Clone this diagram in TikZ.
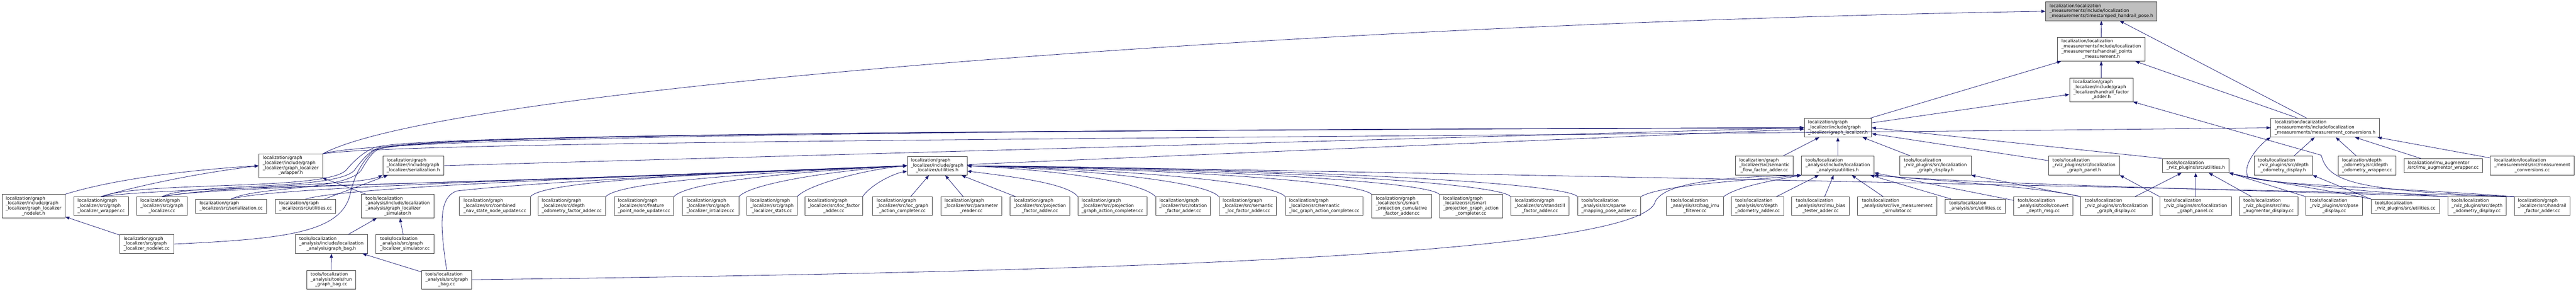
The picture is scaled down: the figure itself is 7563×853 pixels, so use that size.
\documentclass[tikz,border=0pt]{standalone}
\usepackage{fontspec}
\setmainfont{DejaVu Sans}
\usepackage{tikz}
\usetikzlibrary{arrows.meta}
\definecolor{edgeblue}{RGB}{25,25,112}
\definecolor{curgray}{RGB}{191,191,191}
\definecolor{framegray}{RGB}{64,64,64}
\tikzset{%
  filebox/.style={draw=framegray, line width=1.2pt, rectangle, fill=white, inner sep=0pt,
    font=\fontsize{13pt}{14.7pt}\selectfont},% one file of the graph
  current/.style={filebox, fill=curgray},% the file the graph is drawn for
  ltwo/.style={minimum height=41pt},
  lthree/.style={minimum height=55pt},
  lfour/.style={minimum height=69pt},
  incl/.style={draw=edgeblue, line width=1.2pt, -{Triangle[length=12pt,width=9pt]}}% include arrow
}
% left aligned lines, the last one centred
\newcommand*{\flbl}[2]{\begin{tabular}{@{}l@{}}#1\\\multicolumn{1}{@{}c@{}}{#2}\end{tabular}}

\begin{document}
\begin{tikzpicture}[x=1pt,y=1pt]
\useasboundingbox (0,0) rectangle (7563,-853);

% upper part
\node[current, lthree, minimum width=327pt] (T) at (6169.5,-33) {\flbl{localization/localization\\\_measurements/include/localization}{\_measurements/timestamped\_handrail\_pose.h}};
\node[filebox, lfour, minimum width=258pt] (hp) at (6169,-144.5) {\flbl{localization/localization\\\_measurements/include/localization\\\_measurements/handrail\_points}{\_measurement.h}};
\node[filebox, lfour, minimum width=186pt] (hfah) at (6169,-263.5) {\flbl{localization/graph\\\_localizer/include/graph\\\_localizer/handrail\_factor}{\_adder.h}};
\node[filebox, lthree, minimum width=319pt] (mc) at (6826.5,-374.5) {\flbl{localization/localization\\\_measurements/include/localization}{\_measurements/measurement\_conversions.h}};
\node[filebox, lthree, minimum width=198pt] (glh) at (5396,-374.5) {\flbl{localization/graph\\\_localizer/include/graph}{\_localizer/graph\_localizer.h}};

% second row
\node[filebox, lfour, minimum width=187pt] (gwh) at (853.5,-486) {\flbl{localization/graph\\\_localizer/include/graph\\\_localizer/graph\_localizer}{\_wrapper.h}};
\node[filebox, lthree, minimum width=179pt] (sh) at (1213.5,-485.5) {\flbl{localization/graph\\\_localizer/include/graph}{\_localizer/serialization.h}};
\node[filebox, lthree, minimum width=175pt] (gutil) at (2751.5,-486) {\flbl{localization/graph\\\_localizer/include/graph}{\_localizer/utilities.h}};
\node[filebox, lthree, minimum width=170pt] (sffa) at (5180,-485.5) {\flbl{localization/graph\\\_localizer/src/semantic}{\_flow\_factor\_adder.cc}};
\node[filebox, lthree, minimum width=213pt] (auh) at (5395.5,-485.5) {\flbl{tools/localization\\\_analysis/include/localization}{\_analysis/utilities.h}};
\node[filebox, lthree, minimum width=210pt] (gdh) at (5682,-485.5) {\flbl{tools/localization\\\_rviz\_plugins/src/localization}{\_graph\_display.h}};
\node[filebox, lthree, minimum width=209pt] (gph) at (6118.5,-485.5) {\flbl{tools/localization\\\_rviz\_plugins/src/localization}{\_graph\_panel.h}};
\node[filebox, ltwo, minimum width=195pt] (ruh) at (6446.5,-485.5) {\flbl{tools/localization}{\_rviz\_plugins/src/utilities.h}};
\node[filebox, lthree, minimum width=171pt] (dodh) at (6703.5,-485.5) {\flbl{tools/localization\\\_rviz\_plugins/src/depth}{\_odometry\_display.h}};
\node[filebox, lthree, minimum width=169pt] (dow) at (6949.5,-485.5) {\flbl{localization/depth\\\_odometry/src/depth}{\_odometry\_wrapper.cc}};
\node[filebox, ltwo, minimum width=230pt] (iaw) at (7173,-485.5) {\flbl{localization/imu\_augmentor}{/src/imu\_augmentor\_wrapper.cc}};
\node[filebox, lthree, minimum width=247pt] (mcc) at (7434.5,-485.5) {\flbl{localization/localization\\\_measurements/src/measurement}{\_conversions.cc}};

% third row
\node[filebox, lfour, minimum width=185pt] (gnh) at (98.5,-604.5) {\flbl{localization/graph\\\_localizer/include/graph\\\_localizer/graph\_localizer}{\_nodelet.h}};
\node[filebox, lthree, minimum width=160pt] (gwc) at (297,-604.5) {\flbl{localization/graph\\\_localizer/src/graph}{\_localizer\_wrapper.cc}};
\node[filebox, lthree, minimum width=147pt] (glc) at (475.5,-604.5) {\flbl{localization/graph\\\_localizer/src/graph}{\_localizer.cc}};
\node[filebox, ltwo, minimum width=209pt] (sc) at (678.5,-604.5) {\flbl{localization/graph}{\_localizer/src/serialization.cc}};
\node[filebox, ltwo, minimum width=178pt] (guc) at (897,-604.5) {\flbl{localization/graph}{\_localizer/src/utilities.cc}};
\node[filebox, lfour, minimum width=213pt] (gsh) at (1167.5,-604.5) {\flbl{tools/localization\\\_analysis/include/localization\\\_analysis/graph\_localizer}{\_simulator.h}};
\node[filebox, lthree, minimum width=208pt] (cnsu) at (1453,-604.5) {\flbl{localization/graph\\\_localizer/src/combined}{\_nav\_state\_node\_updater.cc}};
\node[filebox, lthree, minimum width=199pt] (dofa) at (1678.5,-604.5) {\flbl{localization/graph\\\_localizer/src/depth}{\_odometry\_factor\_adder.cc}};
\node[filebox, lthree, minimum width=174pt] (fpnu) at (1891,-604.5) {\flbl{localization/graph\\\_localizer/src/feature}{\_point\_node\_updater.cc}};
\node[filebox, lthree, minimum width=166pt] (gli) at (2086,-604.5) {\flbl{localization/graph\\\_localizer/src/graph}{\_localizer\_intializer.cc}};
\node[filebox, lthree, minimum width=147pt] (gls) at (2266.5,-604.5) {\flbl{localization/graph\\\_localizer/src/graph}{\_localizer\_stats.cc}};
\node[filebox, lthree, minimum width=168pt] (lfa) at (2448,-604.5) {\flbl{localization/graph\\\_localizer/src/loc\_factor}{\_adder.cc}};
\node[filebox, lthree, minimum width=175pt] (lgac) at (2649.5,-604.5) {\flbl{localization/graph\\\_localizer/src/loc\_graph}{\_action\_completer.cc}};
\node[filebox, lthree, minimum width=179pt] (pr) at (2851.5,-604.5) {\flbl{localization/graph\\\_localizer/src/parameter}{\_reader.cc}};
\node[filebox, lthree, minimum width=176pt] (pfa) at (3053,-604.5) {\flbl{localization/graph\\\_localizer/src/projection}{\_factor\_adder.cc}};
\node[filebox, lthree, minimum width=202pt] (pgac) at (3266,-604.5) {\flbl{localization/graph\\\_localizer/src/projection}{\_graph\_action\_completer.cc}};
\node[filebox, lthree, minimum width=161pt] (rfa) at (3473.5,-604.5) {\flbl{localization/graph\\\_localizer/src/rotation}{\_factor\_adder.cc}};
\node[filebox, lthree, minimum width=169pt] (slfa) at (3663.5,-604.5) {\flbl{localization/graph\\\_localizer/src/semantic}{\_loc\_factor\_adder.cc}};
\node[filebox, lthree, minimum width=228pt] (slgac) at (3888,-604.5) {\flbl{localization/graph\\\_localizer/src/semantic}{\_loc\_graph\_action\_completer.cc}};
\node[filebox, lfour, minimum width=175pt] (spcfa) at (4114.5,-604.5) {\flbl{localization/graph\\\_localizer/src/smart\\\_projection\_cumulative}{\_factor\_adder.cc}};
\node[filebox, lfour, minimum width=185pt] (spgac) at (4318.5,-604.5) {\flbl{localization/graph\\\_localizer/src/smart\\\_projection\_graph\_action}{\_completer.cc}};
\node[filebox, lthree, minimum width=170pt] (sfa) at (4521,-604.5) {\flbl{localization/graph\\\_localizer/src/standstill}{\_factor\_adder.cc}};
\node[filebox, lthree, minimum width=185pt] (smpa) at (4724.5,-604.5) {\flbl{tools/localization\\\_analysis/src/sparse}{\_mapping\_pose\_adder.cc}};
\node[filebox, lthree, minimum width=167pt] (bif) at (4976.5,-604.5) {\flbl{tools/localization\\\_analysis/src/bag\_imu}{\_filterer.cc}};
\node[filebox, lthree, minimum width=154pt] (doa) at (5160,-604.5) {\flbl{tools/localization\\\_analysis/src/depth}{\_odometry\_adder.cc}};
\node[filebox, lthree, minimum width=170pt] (ibt) at (5345,-604.5) {\flbl{tools/localization\\\_analysis/src/imu\_bias}{\_tester\_adder.cc}};
\node[filebox, lthree, minimum width=232pt] (lms) at (5570,-604.5) {\flbl{tools/localization\\\_analysis/src/live\_measurement}{\_simulator.cc}};
\node[filebox, ltwo, minimum width=177pt] (auc) at (5799.5,-604.5) {\flbl{tools/localization}{\_analysis/src/utilities.cc}};
\node[filebox, lthree, minimum width=173pt] (cdm) at (5998.5,-604.5) {\flbl{tools/localization\\\_analysis/tools/convert}{\_depth\_msg.cc}};
\node[filebox, lthree, minimum width=209pt] (gdc) at (6213.5,-604.5) {\flbl{tools/localization\\\_rviz\_plugins/src/localization}{\_graph\_display.cc}};
\node[filebox, lthree, minimum width=210pt] (gpc) at (6446,-604.5) {\flbl{tools/localization\\\_rviz\_plugins/src/localization}{\_graph\_panel.cc}};
\node[filebox, lthree, minimum width=171pt] (iadc) at (6660.5,-604.5) {\flbl{tools/localization\\\_rviz\_plugins/src/imu}{\_augmentor\_display.cc}};
\node[filebox, lthree, minimum width=166pt] (pdc) at (6853,-604.5) {\flbl{tools/localization\\\_rviz\_plugins/src/pose}{\_display.cc}};
\node[filebox, ltwo, minimum width=201pt] (ruc) at (7061.5,-604.5) {\flbl{tools/localization}{\_rviz\_plugins/src/utilities.cc}};
\node[filebox, lthree, minimum width=171pt] (dodc) at (7272.5,-604.5) {\flbl{tools/localization\\\_rviz\_plugins/src/depth}{\_odometry\_display.cc}};
\node[filebox, lthree, minimum width=163pt] (hfac) at (7463.5,-604.5) {\flbl{localization/graph\\\_localizer/src/handrail}{\_factor\_adder.cc}};

% lower rows
\node[filebox, lthree, minimum width=159pt] (gnc) at (430.5,-715.5) {\flbl{localization/graph\\\_localizer/src/graph}{\_localizer\_nodelet.cc}};
\node[filebox, lthree, minimum width=212pt] (gbh) at (973,-715.5) {\flbl{tools/localization\\\_analysis/include/localization}{\_analysis/graph\_bag.h}};
\node[filebox, lthree, minimum width=170pt] (gsc) at (1189,-715.5) {\flbl{tools/localization\\\_analysis/src/graph}{\_localizer\_simulator.cc}};
\node[filebox, lthree, minimum width=143pt] (rgb) at (972.5,-820) {\flbl{tools/localization\\\_analysis/tools/run}{\_graph\_bag.cc}};
\node[filebox, lthree, minimum width=147pt] (gbc) at (1311.5,-820) {\flbl{tools/localization\\\_analysis/src/graph}{\_bag.cc}};

% upper part
\draw[incl] (hp) -- (T);
\draw[incl] (mc) -- (T);
\draw[incl] (gwh.north east) .. controls (1300,-260) and (3800,-70) .. (T.west);
\draw[incl] (hfah) -- (hp);
\draw[incl] (mc) -- (hp);
\draw[incl] (glh) -- (hp);
\draw[incl] (glh) -- (hfah);
\draw[incl] (hfac.north west) .. controls (6900,-560) and (6835,-530) .. (6815,-455) -- (hfah.south east);

% measurement conversions
\draw[incl] (gwh.north east) .. controls (1200,-410) and (4000,-405) .. (mc.west);
\draw[incl] (mcc) -- (mc);
\draw[incl] (iaw) -- (mc);
\draw[incl] (dow) -- (mc);
\draw[incl] (dodh) -- (mc);
\draw[incl] (hfac.north west) .. controls (7000,-548) and (6700,-545) .. (6600,-520) .. controls (6580,-480) and (6640,-420) .. (mc.south west);

% graph localizer
\draw[incl] (ruh.north west) -- (glh.east);
\draw[incl] (gph.172) -- (glh.-10);
\draw[incl] (sffa) -- (glh);
\draw[incl] (auh) -- (glh);
\draw[incl] (gdh) -- (glh);
\draw[incl] (sh.east) -- (glh.west);
\draw[incl] (gutil) -- (glh);
\draw[incl] (gwh.north east) .. controls (1100,-400) and (3000,-380) .. (glh.west);
\draw[incl] (gwc.north) .. controls (420,-530) and (950,-560) .. (1015,-500) .. controls (1045,-465) and (1070,-445) .. (1100,-432) .. controls (1200,-405) and (2000,-385) .. (glh.west);
\draw[incl] (glc.north) .. controls (560,-535) and (980,-560) .. (1040,-500) .. controls (1065,-465) and (1085,-445) .. (1105,-436) .. controls (1200,-405) and (2000,-385) .. (glh.west);
\draw[incl] (sc.north) .. controls (760,-545) and (1010,-560) .. (1060,-500) .. controls (1080,-465) and (1095,-445) .. (1110,-438) .. controls (1200,-405) and (2000,-385) .. (glh.west);
\draw[incl] (gnc.east) .. controls (850,-700) and (1010,-680) .. (1030,-560) .. controls (1045,-500) and (1075,-460) .. (1100,-440) .. controls (1200,-405) and (2000,-385) .. (glh.west);

% left part
\draw[incl] (gnh.north east) .. controls (350,-520) and (600,-495) .. (gwh.west);
\draw[incl] (gwc.north) .. controls (420,-540) and (600,-505) .. (gwh.west);
\draw[incl] (gsh) -- (gwh);
\draw[incl] (gnc) -- (gnh);
\draw[incl] (guc) -- (sh);
\draw[incl] (glc.north) .. controls (700,-540) and (1050,-545) .. (sh.south west);
\draw[incl] (gbh) -- (gsh);
\draw[incl] (gsc) -- (gsh);
\draw[incl] (rgb) -- (gbh);
\draw[incl] (gbc) -- (gbh);

% graph localizer utilities
\draw[incl] (gwc.north) .. controls (500,-545) and (1500,-540) .. (gutil.west);
\draw[incl] (glc.north) .. controls (620,-545) and (1500,-535) .. (gutil.west);
\draw[incl] (sc.north) .. controls (800,-550) and (1500,-530) .. (gutil.west);
\draw[incl] (guc.north) .. controls (1000,-555) and (1500,-528) .. (gutil.west);
\draw[incl] (gbc.north) .. controls (1290,-650) and (1290,-580) .. (1340,-560) .. controls (1600,-530) and (2300,-500) .. (gutil.west);
\draw[incl] (cnsu.north east) .. controls +(40,50) and +(-500,-20) .. (gutil.west);
\draw[incl] (dofa.north east) .. controls +(40,45) and +(-400,-18) .. (gutil.west);
\draw[incl] (fpnu.north east) .. controls +(40,45) and +(-300,-15) .. (gutil.west);
\draw[incl] (gli.north east) .. controls +(35,40) and +(-200,-12) .. (gutil.west);
\draw[incl] (gls.north east) .. controls +(30,35) and +(-120,-10) .. (gutil.west);
\draw[incl] (lfa.north east) .. controls +(20,30) and +(-50,-10) .. (gutil.190);
\draw[incl] (lgac) -- (gutil);
\draw[incl] (pr) -- (gutil);
\draw[incl] (pfa) -- (gutil);
\draw[incl] (pgac.north west) .. controls +(-30,40) and +(120,-15) .. (gutil.-10);
\draw[incl] (rfa.north west) .. controls +(-40,45) and +(250,-12) .. (gutil.east);
\draw[incl] (slfa.north west) .. controls +(-40,45) and +(350,-10) .. (gutil.east);
\draw[incl] (slgac.north west) .. controls +(-40,45) and +(450,-10) .. (gutil.east);
\draw[incl] (spcfa.north west) .. controls +(-40,40) and +(550,-8) .. (gutil.east);
\draw[incl] (spgac.north west) .. controls +(-40,40) and +(650,-8) .. (gutil.east);
\draw[incl] (sfa.north west) .. controls +(-40,45) and +(750,-6) .. (gutil.east);
\draw[incl] (smpa.north west) .. controls +(-40,45) and +(850,-6) .. (gutil.east);
\draw[incl] (hfac.north west) .. controls (6500,-552) and (3500,-492) .. (gutil.east);

% analysis utilities
\draw[incl] (gbc.east) .. controls (3000,-800) and (4820,-760) .. (4860,-590) .. controls (4885,-545) and (5000,-520) .. (auh.south west);
\draw[incl] (smpa.north east) .. controls +(60,35) and +(-150,-15) .. (auh.south west);
\draw[incl] (bif.north east) .. controls +(40,30) and +(-80,-15) .. (auh.south west);
\draw[incl] (doa) -- (auh);
\draw[incl] (ibt) -- (auh);
\draw[incl] (lms) -- (auh);
\draw[incl] (auc) -- (auh);
\draw[incl] (cdm) -- (auh);
\draw[incl] (gdc.north west) .. controls (6000,-550) and (5700,-530) .. (auh.south east);
\draw[incl] (dodc.north west) .. controls (6700,-560) and (5800,-540) .. (auh.south east);

% rviz plugins
\draw[incl] (gdc.north west) -- (gdh.south east);
\draw[incl] (gpc.north west) -- (gph.south east);
\draw[incl] (gdc) -- (ruh);
\draw[incl] (gpc) -- (ruh);
\draw[incl] (iadc) -- (ruh);
\draw[incl] (pdc.north west) -- (ruh.south east);
\draw[incl] (ruc.north west) .. controls (6850,-560) and (6620,-525) .. (ruh.south east);
\draw[incl] (dodc.north west) .. controls (6900,-560) and (6620,-530) .. (ruh.south east);
\draw[incl] (ruc.north west) -- (dodh.south east);

\end{tikzpicture}
\end{document}
